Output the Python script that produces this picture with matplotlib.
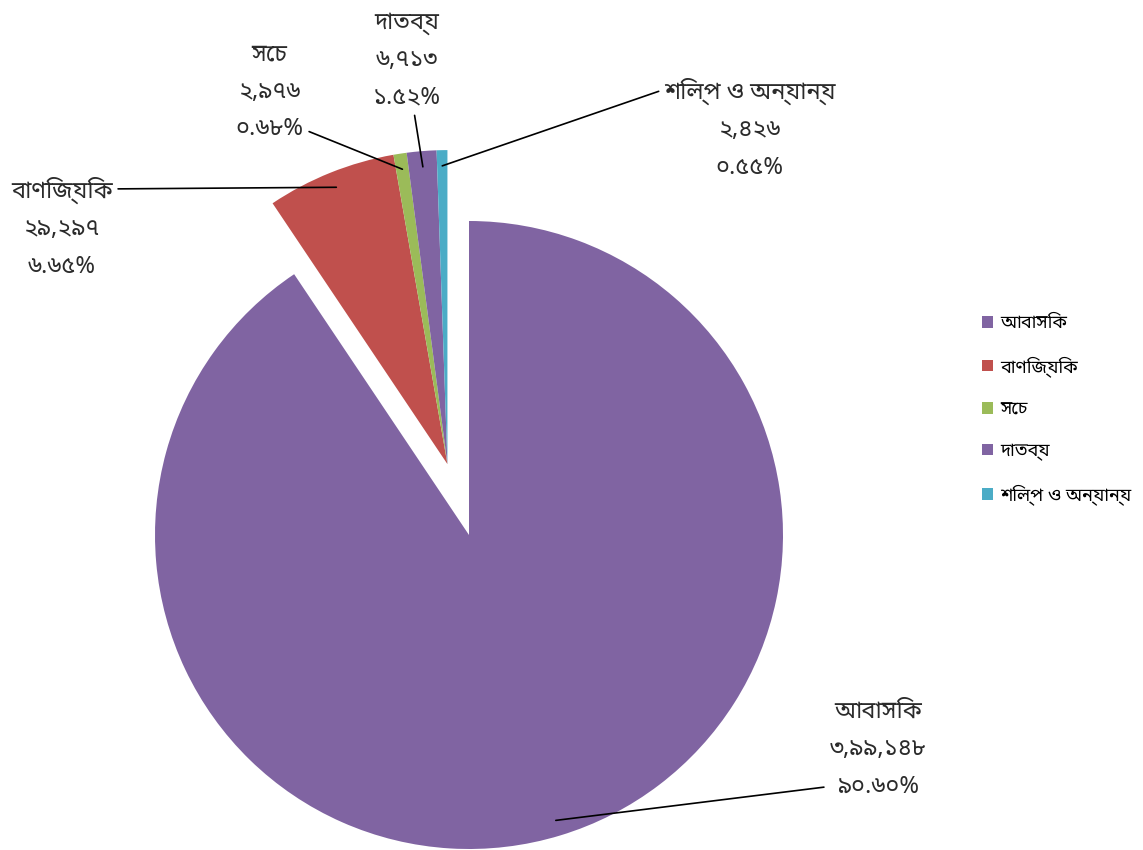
import numpy as np
import matplotlib
matplotlib.use("Agg")
from matplotlib import pyplot as plt

plt.rcParams['font.family'] = ['Noto Sans Bengali', 'DejaVu Sans']

# consumers by category
categories = ['আবাসিক', 'বাণিজ্যিক', 'সেচ', 'দাতব্য', 'শিল্প ও অন্যান্য']
consumers = [399148, 29297, 2976, 6713, 2426]
count_labels = ['৩,৯৯,১৪৮', '২৯,২৯৭', '২,৯৭৬', '৬,৭১৩', '২,৪২৬']
pct_labels = ['৯০.৬০%', '৬.৬৫%', '০.৬৮%', '১.৫২%', '০.৫৫%']
colors = ['#8064A2', '#C0504D', '#9BBB59', '#8064A2', '#4BACC6']

# label placement (figure fraction) and where the leader leaves the text
label_pos = [(0.768, 0.119), (0.054, 0.732), (0.236, 0.892), (0.356, 0.929), (0.656, 0.849)]
label_rel = [(0.0, 0.12), (1.0, 0.88), (1.0, 0.12), (0.6, 0.0), (0.0, 0.88)]

fig = plt.figure(figsize=(11.43, 8.5), dpi=100)
ax = fig.add_axes([0, 0, 1, 1])

wedges, _ = ax.pie(consumers, colors=colors, startangle=90, counterclock=False,
                   radius=1.0, wedgeprops=dict(linewidth=0))

# pull the small slices out together as one block
lo = min(w.theta1 for w in wedges[1:])
hi = max(w.theta2 for w in wedges[1:])
mid = np.deg2rad((lo + hi) / 2)
off = 0.236
for w in wedges[1:]:
    w.set_center((off * np.cos(mid), off * np.sin(mid)))

for i, w in enumerate(wedges):
    a = np.deg2rad((w.theta1 + w.theta2) / 2)
    cx, cy = w.center
    r = 0.95
    ax.annotate(f"{categories[i]}\n{count_labels[i]}\n{pct_labels[i]}",
                xy=(cx + r * np.cos(a), cy + r * np.sin(a)),
                xytext=label_pos[i], textcoords='figure fraction',
                ha='center', va='center', fontsize=17, linespacing=1.75,
                color='#2b2b2b',
                arrowprops=dict(arrowstyle='-', color='black', lw=1.2,
                                relpos=label_rel[i], shrinkA=2, shrinkB=0))

ax.legend(wedges, categories, loc='center left', bbox_to_anchor=(0.845, 0.518),
          bbox_transform=fig.transFigure, frameon=False, fontsize=13,
          handlelength=0.6, handleheight=0.6, handletextpad=0.4, labelspacing=1.3)

ax.set_xlim(-469 / 314, (1143 - 469) / 314)
ax.set_ylim(-315 / 314, (850 - 315) / 314)
ax.set_aspect('equal')
ax.axis('off')

fig.savefig('out.png', dpi=100, facecolor='white')
